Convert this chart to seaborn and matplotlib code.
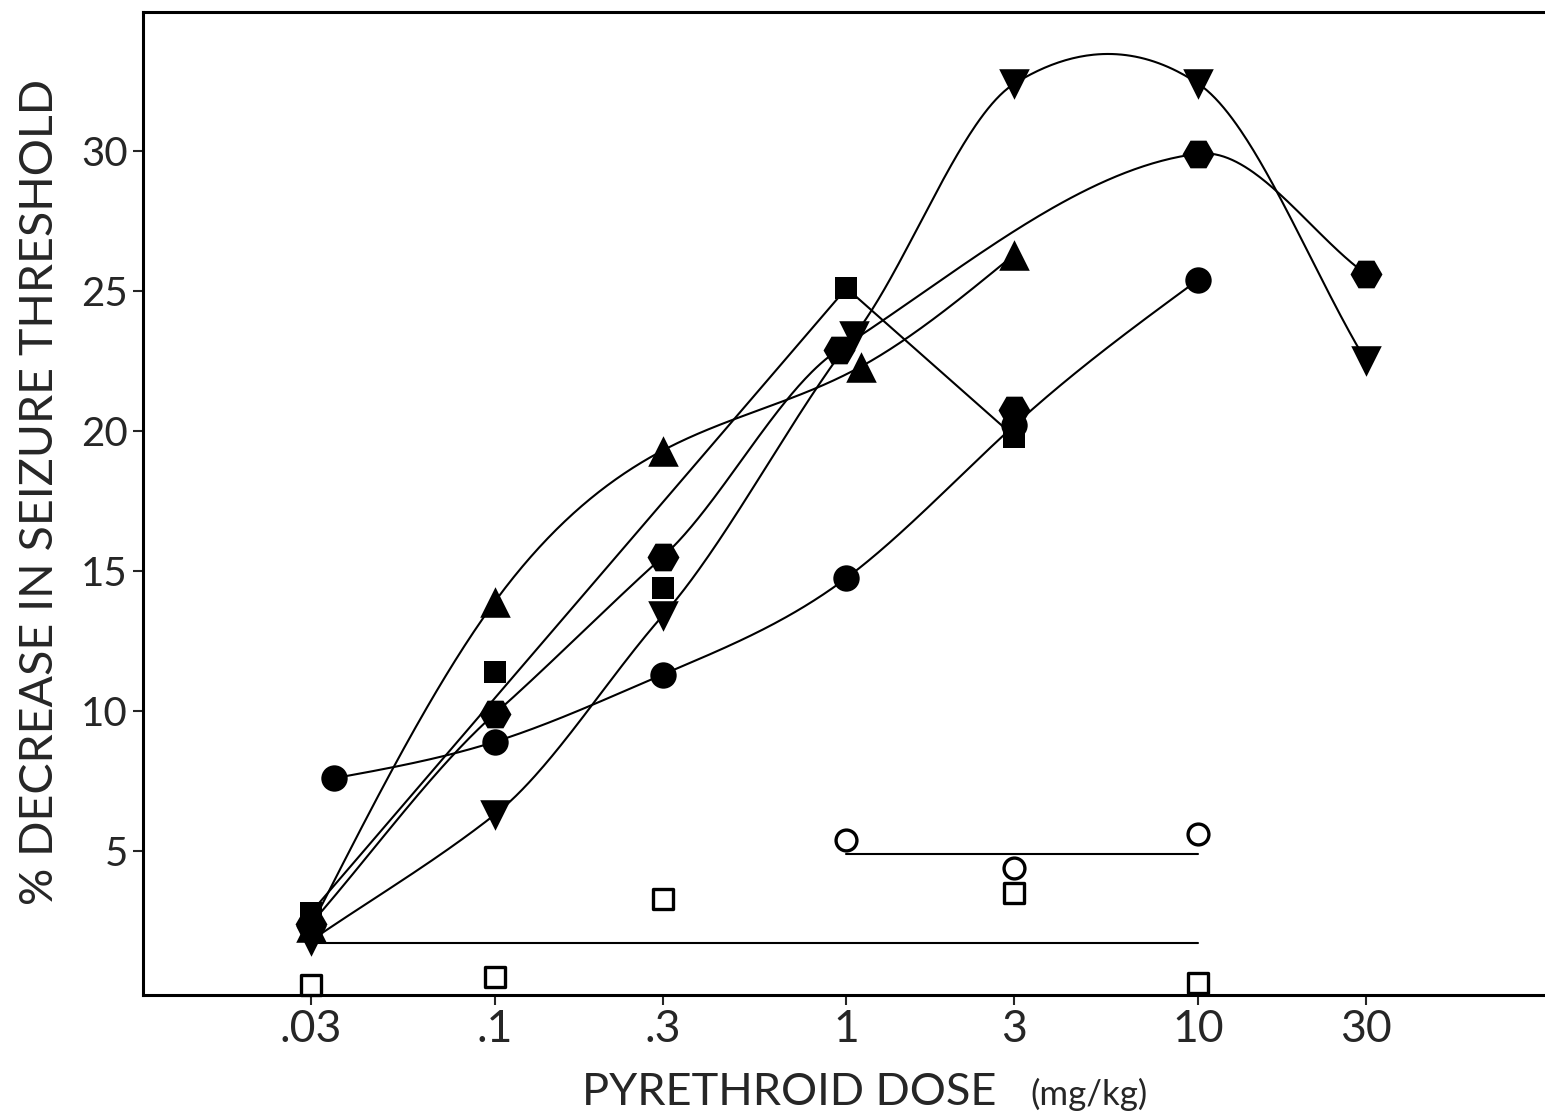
import numpy as np
import pandas as pd
import matplotlib
matplotlib.use("Agg")
import matplotlib.pyplot as plt
import seaborn as sns

# ---- data: % decrease in seizure threshold vs pyrethroid dose (mg/kg) ----
circle_dose = [0.035, 0.1, 0.3, 1, 3, 10]
circle_val = [7.6, 8.9, 11.3, 14.75, 20.2, 25.4]

tri_up_dose = [0.03, 0.1, 0.3, 1.1, 3]
tri_up_val = [2.3, 13.9, 19.3, 22.3, 26.3]

tri_down_dose = [0.03, 0.1, 0.3, 1.05, 3, 10, 30]
tri_down_val = [1.8, 6.3, 13.4, 23.4, 32.4, 32.4, 22.5]

hex_dose = [0.03, 0.1, 0.3, 0.95, 3, 10, 30]
hex_val = [2.4, 9.9, 15.5, 22.9, 20.75, 29.9, 25.6]
hex_curve_idx = [0, 1, 2, 3, 5, 6]

square_dose = [0.03, 0.1, 0.3, 1, 3]
square_val = [2.8, 11.4, 14.4, 25.1, 19.8]
square_line_idx = [0, 3, 4]

open_circle_dose = [1, 3, 10]
open_circle_val = [5.4, 4.4, 5.6]
open_circle_mean = 4.9

open_square_dose = [0.03, 0.1, 0.3, 3, 10]
open_square_val = [0.2, 0.5, 3.3, 3.5, 0.3]
open_square_mean = 1.7

xticks = [0.03, 0.1, 0.3, 1, 3, 10, 30]
xticklabels = [".03", ".1", ".3", "1", "3", "10", "30"]
yticks = [5, 10, 15, 20, 25, 30]


def natural_spline(dose, val, n=80):
    """Natural cubic spline through the points, in log-dose space."""
    x = np.log10(np.asarray(dose, float))
    y = np.asarray(val, float)
    k = len(x)
    h = np.diff(x)
    A = np.zeros((k, k))
    b = np.zeros(k)
    A[0, 0] = A[-1, -1] = 1.0
    for i in range(1, k - 1):
        A[i, i - 1] = h[i - 1]
        A[i, i] = 2 * (h[i - 1] + h[i])
        A[i, i + 1] = h[i]
        b[i] = 3 * ((y[i + 1] - y[i]) / h[i] - (y[i] - y[i - 1]) / h[i - 1])
    c = np.linalg.solve(A, b)
    xs, ys = [], []
    for i in range(k - 1):
        bi = (y[i + 1] - y[i]) / h[i] - h[i] * (2 * c[i] + c[i + 1]) / 3
        di = (c[i + 1] - c[i]) / (3 * h[i])
        t = np.linspace(0, h[i], n)
        xs.append(10 ** (x[i] + t))
        ys.append(y[i] + bi * t + c[i] * t**2 + di * t**3)
    return np.concatenate(xs), np.concatenate(ys)


def hermite_curve(dose, val, tension=0.85, n=80):
    """Cardinal (Catmull-Rom style) curve through the points, in log-dose space."""
    lx = np.log10(np.asarray(dose, float))
    y = np.asarray(val, float)
    m = np.empty_like(y)
    m[0] = (y[1] - y[0]) / (lx[1] - lx[0])
    m[-1] = (y[-1] - y[-2]) / (lx[-1] - lx[-2])
    for i in range(1, len(y) - 1):
        m[i] = (y[i + 1] - y[i - 1]) / (lx[i + 1] - lx[i - 1])
    m[1:-1] *= tension
    xs, ys = [], []
    t = np.linspace(0, 1, n)
    h00 = 2 * t**3 - 3 * t**2 + 1
    h10 = t**3 - 2 * t**2 + t
    h01 = -2 * t**3 + 3 * t**2
    h11 = t**3 - t**2
    for i in range(len(y) - 1):
        h = lx[i + 1] - lx[i]
        xs.append(10 ** (lx[i] + t * h))
        ys.append(h00 * y[i] + h10 * h * m[i] + h01 * y[i + 1] + h11 * h * m[i + 1])
    return np.concatenate(xs), np.concatenate(ys)


sns.set_style("ticks")
plt.rcParams["font.family"] = ["Lato", "DejaVu Sans"]

fig = plt.figure(figsize=(15.45, 11.19), dpi=100)
ax = fig.add_axes([143 / 1545, 1 - 995 / 1119, (1550 - 143) / 1545, (995 - 12) / 1119])
ax.set_xscale("log")
ax.set_xlim(0.01, 100)
ax.set_ylim(-0.14, 34.96)

LW = 1.5
line_kw = dict(color="black", linewidth=LW, sort=False, estimator=None, ax=ax, zorder=2)

# fitted curves
curves = [
    natural_spline(circle_dose, circle_val),
    natural_spline(tri_up_dose, tri_up_val),
    hermite_curve(tri_down_dose, tri_down_val),
    hermite_curve([hex_dose[i] for i in hex_curve_idx],
                  [hex_val[i] for i in hex_curve_idx]),
]
for cx, cy in curves:
    sns.lineplot(x=cx, y=cy, **line_kw)

sns.lineplot(x=[square_dose[i] for i in square_line_idx],
             y=[square_val[i] for i in square_line_idx], **line_kw)

# control means
sns.lineplot(x=[min(open_circle_dose), max(open_circle_dose)],
             y=[open_circle_mean, open_circle_mean], **line_kw)
sns.lineplot(x=[min(open_square_dose), max(open_square_dose)],
             y=[open_square_mean, open_square_mean], **line_kw)

# markers
def pts(d, v, marker, size, filled=True, ew=0):
    sns.scatterplot(x=d, y=v, marker=marker, s=size**2, ax=ax,
                    color="black" if filled else "white",
                    edgecolor="black", linewidth=ew, zorder=3, clip_on=False)

pts(circle_dose, circle_val, "o", 19)
pts(tri_up_dose, tri_up_val, "^", 22)
pts(tri_down_dose, tri_down_val, "v", 22)
pts(hex_dose, hex_val, "H", 23)
pts(square_dose, square_val, "s", 16)
pts(open_circle_dose, open_circle_val, "o", 15, filled=False, ew=2.4)
pts(open_square_dose, open_square_val, "s", 15, filled=False, ew=2.4)

# axes styling
for side in ["left", "top", "bottom"]:
    ax.spines[side].set_linewidth(2.2)
    ax.spines[side].set_color("black")
ax.spines["right"].set_visible(False)

ax.set_xticks(xticks)
ax.set_xticklabels(xticklabels, fontsize=32)
ax.xaxis.set_minor_locator(matplotlib.ticker.NullLocator())
ax.set_yticks(yticks)
ax.set_yticklabels([str(t) for t in yticks], fontsize=29)
ax.tick_params(axis="x", direction="out", length=7, width=1.5, pad=3)
ax.tick_params(axis="y", direction="out", length=7, width=1.5, pad=4)
ax.set_xlabel("")
ax.set_ylabel("")

fig.text(40 / 1545, 1 - 492 / 1119, "% DECREASE IN SEIZURE THRESHOLD",
         rotation=90, ha="center", va="center", fontsize=33.5)
fig.text(582 / 1545, 1 - 1105 / 1119, "PYRETHROID DOSE",
         ha="left", va="baseline", fontsize=32.5)
fig.text(1030 / 1545, 1 - 1105 / 1119, "(mg/kg)",
         ha="left", va="baseline", fontsize=25)

fig.savefig("out.png", dpi=100, facecolor="white")
